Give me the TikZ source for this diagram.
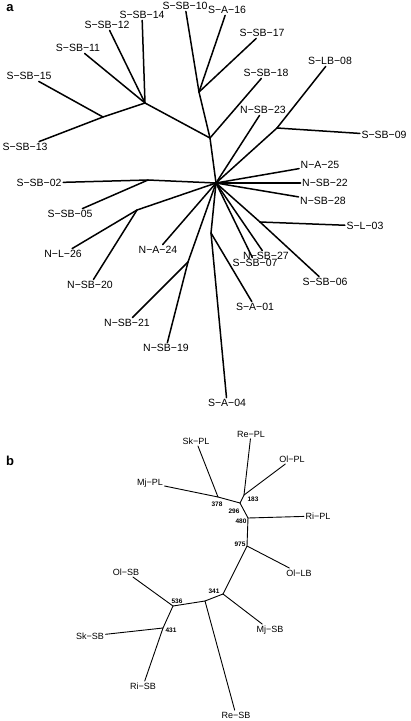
\documentclass[tikz,border=0pt]{standalone}
\usepackage{fontspec}
\setmainfont{Liberation Sans}
\begin{document}
\begin{tikzpicture}[
    x=1pt, y=-1pt,
    leafa/.style={inner sep=1.5pt, font=\fontsize{10.5}{12}\selectfont},
    leafb/.style={inner sep=1.5pt, font=\fontsize{9}{10}\selectfont},
    boot/.style={inner sep=0pt, font=\fontsize{6.5}{7}\selectfont\bfseries},
    brancha/.style={line width=1.5pt, line cap=round},
    branchb/.style={line width=0.9pt, line cap=round},
    panel/.style={font=\fontsize{13}{14}\selectfont\bfseries}
]
\useasboundingbox (0,0) rectangle (411,721);

% Panel a
\node[panel] (pa) at (10,8) {a};

% inner nodes
\coordinate (a0) at (216,183);
\coordinate (a1) at (145,103);
\coordinate (a2) at (103,117);
\coordinate (a3) at (210,138);
\coordinate (a4) at (199,92);
\coordinate (a5) at (277,128);
\coordinate (a6) at (260,222);
\coordinate (a7) at (211,233);
\coordinate (a8) at (148,180);
\coordinate (a9) at (137,210);
\coordinate (a10) at (188,262);

% leaves
\node[leafa] (ssb14) at (142,15) {S−SB−14};
\node[leafa] (ssb12) at (107,25) {S−SB−12};
\node[leafa] (ssb11) at (78,48) {S−SB−11};
\node[leafa] (ssb15) at (29,76) {S−SB−15};
\node[leafa] (ssb13) at (25,147) {S−SB−13};
\node[leafa] (ssb10) at (185,6) {S−SB−10};
\node[leafa] (sa16) at (227,10) {S−A−16};
\node[leafa] (ssb17) at (262,33) {S−SB−17};
\node[leafa] (ssb18) at (266,73) {S−SB−18};
\node[leafa] (nsb23) at (263,110) {N−SB−23};
\node[leafa] (slb08) at (330,61) {S−LB−08};
\node[leafa] (ssb09) at (384,135) {S−SB−09};
\node[leafa] (na25) at (320,165) {N−A−25};
\node[leafa] (nsb22) at (325,183) {N−SB−22};
\node[leafa] (nsb28) at (323,201) {N−SB−28};
\node[leafa] (sl03) at (365,226) {S−L−03};
\node[leafa] (ssb06) at (325,282) {S−SB−06};
\node[leafa] (nsb27) at (266,256) {N−SB−27};
\node[leafa] (ssb07) at (255,263) {S−SB−07};
\node[leafa] (sa01) at (255,307) {S−A−01};
\node[leafa] (sa04) at (227,403) {S−A−04};
\node[leafa] (ssb02) at (39,183) {S−SB−02};
\node[leafa] (ssb05) at (70,214) {S−SB−05};
\node[leafa] (nl26) at (63,254) {N−L−26};
\node[leafa] (nsb20) at (90,285) {N−SB−20};
\node[leafa] (na24) at (158,250) {N−A−24};
\node[leafa] (nsb21) at (127,323) {N−SB−21};
\node[leafa] (nsb19) at (166,348) {N−SB−19};

% branches
\draw[brancha] (a1) -- (ssb14);
\draw[brancha] (a1) -- (ssb12);
\draw[brancha] (a1) -- (ssb11);
\draw[brancha] (a2) -- (ssb15);
\draw[brancha] (a2) -- (ssb13);
\draw[brancha] (a2) -- (a1);
\draw[brancha] (a1) -- (a3);
\draw[brancha] (a4) -- (ssb10);
\draw[brancha] (a4) -- (sa16);
\draw[brancha] (a4) -- (ssb17);
\draw[brancha] (a4) -- (a3);
\draw[brancha] (a3) -- (ssb18);
\draw[brancha] (a3) -- (a0);
\draw[brancha] (a0) -- (nsb23);
\draw[brancha] (a5) -- (slb08);
\draw[brancha] (a5) -- (ssb09);
\draw[brancha] (a0) -- (a5);
\draw[brancha] (a0) -- (na25);
\draw[brancha] (a0) -- (nsb22);
\draw[brancha] (a0) -- (nsb28);
\draw[brancha] (a0) -- (a6);
\draw[brancha] (a6) -- (sl03);
\draw[brancha] (a6) -- (ssb06);
\draw[brancha] (a0) -- (nsb27);
\draw[brancha] (a0) -- (ssb07);
\draw[brancha] (a0) -- (a7);
\draw[brancha] (a7) -- (sa01);
\draw[brancha] (a7) -- (sa04);
\draw[brancha] (a0) -- (a8);
\draw[brancha] (a8) -- (ssb02);
\draw[brancha] (a8) -- (ssb05);
\draw[brancha] (a0) -- (a9);
\draw[brancha] (a9) -- (nl26);
\draw[brancha] (a9) -- (nsb20);
\draw[brancha] (a0) -- (na24);
\draw[brancha] (a0) -- (a10);
\draw[brancha] (a10) -- (nsb21);
\draw[brancha] (a10) -- (nsb19);

% Panel b
\node[panel] (pb) at (10,461) {b};

% inner nodes
\coordinate (b378) at (218,497);
\coordinate (b183) at (244,495);
\coordinate (b296) at (240,503);
\coordinate (b480) at (248,518);
\coordinate (b975) at (247,546);
\coordinate (b341) at (223,594);
\coordinate (bre) at (205,601);
\coordinate (b536) at (173,606);
\coordinate (b431) at (163,628);

% leaves
\node[leafb] (skpl) at (196,441) {Sk−PL};
\node[leafb] (mjpl) at (150,483) {Mj−PL};
\node[leafb] (repl) at (251,434) {Re−PL};
\node[leafb] (olpl) at (292,459) {Ol−PL};
\node[leafb] (ripl) at (318,516) {Ri−PL};
\node[leafb] (ollb) at (299,573) {Ol−LB};
\node[leafb] (mjsb) at (270,630) {Mj−SB};
\node[leafb] (resb) at (236,715) {Re−SB};
\node[leafb] (olsb) at (126,572) {Ol−SB};
\node[leafb] (sksb) at (90,636) {Sk−SB};
\node[leafb] (risb) at (143,686) {Ri−SB};

% bootstrap values
\node[boot] (v378) at (217,504) {378};
\node[boot] (v296) at (234,511) {296};
\node[boot] (v183) at (253,499) {183};
\node[boot] (v480) at (241,521) {480};
\node[boot] (v975) at (240,544) {975};
\node[boot] (v341) at (214,591) {341};
\node[boot] (v536) at (177,601) {536};
\node[boot] (v431) at (171,630) {431};

% branches
\draw[branchb] (b378) -- (skpl);
\draw[branchb] (b378) -- (mjpl);
\draw[branchb] (b378) -- (b296);
\draw[branchb] (b183) -- (repl);
\draw[branchb] (b183) -- (olpl);
\draw[branchb] (b183) -- (b296);
\draw[branchb] (b296) -- (b480);
\draw[branchb] (b480) -- (ripl);
\draw[branchb] (b480) -- (b975);
\draw[branchb] (b975) -- (ollb);
\draw[branchb] (b975) -- (b341);
\draw[branchb] (b341) -- (mjsb);
\draw[branchb] (b341) -- (bre);
\draw[branchb] (bre) -- (resb);
\draw[branchb] (bre) -- (b536);
\draw[branchb] (b536) -- (olsb);
\draw[branchb] (b536) -- (b431);
\draw[branchb] (b431) -- (sksb);
\draw[branchb] (b431) -- (risb);
\end{tikzpicture}
\end{document}
